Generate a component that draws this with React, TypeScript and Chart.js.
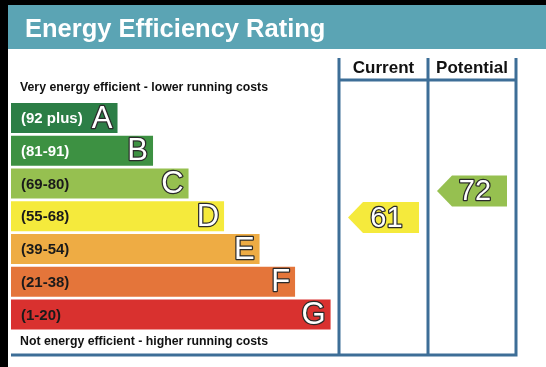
import React, { useEffect, useRef } from "react";
import { Chart, registerables } from "chart.js";

Chart.register(...registerables);

const categories = ["A", "B", "C", "D", "E", "F", "G"];
const bandLabels = ["(92 plus)", "(81-91)", "(69-80)", "(55-68)", "(39-54)", "(21-38)", "(1-20)"];
const bandMin = [92, 81, 69, 55, 39, 21, 1];
const bandMax = [100, 91, 80, 68, 54, 38, 20];
const barLengths = [3, 4, 5, 6, 7, 8, 9];
const barColors = ["#2c7e46", "#3d9142", "#96c050", "#f5ea3c", "#eeac44", "#e4753a", "#d9312f"];
const labelColors = ["#ffffff", "#ffffff", "#1a1a1a", "#1a1a1a", "#1a1a1a", "#1a1a1a", "#1a1a1a"];
const columnHeaders = ["Current", "Potential"];
const ratings = [61, 72]; // current, potential
const titleText = "Energy Efficiency Rating";
const topNote = "Very energy efficient - lower running costs";
const bottomNote = "Not energy efficient - higher running costs";

const FONT = "'Liberation Sans', Arial, sans-serif";
const FRAME = "#3d6e97";
const TEAL = "#5ba4b4";

function bandOf(v: number) {
  for (let i = 0; i < bandMin.length; i++) if (v >= bandMin[i]) return i;
  return bandMin.length - 1;
}

function outlined(ctx: CanvasRenderingContext2D, t: string, x: number, y: number, lw: number) {
  ctx.lineJoin = "round";
  ctx.lineWidth = lw;
  ctx.strokeStyle = "#2a2a2a";
  ctx.strokeText(t, x, y);
  ctx.fillStyle = "#ffffff";
  ctx.fillText(t, x, y);
}

const epcPlugin = {
  id: "epc",
  beforeDraw(chart: any) {
    const ctx = chart.ctx as CanvasRenderingContext2D;
    const W = chart.width, H = chart.height;
    ctx.save();
    ctx.fillStyle = "#000";
    ctx.fillRect(0, 0, W, H);
    ctx.fillStyle = "#fff";
    ctx.fillRect(8, 5, W - 8, H - 5);
    ctx.fillStyle = TEAL;
    ctx.fillRect(8, 5, W - 8, 44);
    ctx.fillStyle = "#fff";
    ctx.font = `bold 25.5px ${FONT}`;
    ctx.textBaseline = "alphabetic";
    ctx.textAlign = "left";
    ctx.fillText(titleText, 25, 37);

    ctx.fillStyle = "#111";
    ctx.font = `bold 12.3px ${FONT}`;
    ctx.textBaseline = "middle";
    ctx.fillText(topNote, 20, 88);
    ctx.fillText(bottomNote, 20, 342);

    ctx.font = `bold 17px ${FONT}`;
    ctx.textAlign = "center";
    ctx.fillText(columnHeaders[0], 383.5, 68);
    ctx.fillText(columnHeaders[1], 472, 68);
    ctx.restore();
  },
  afterDatasetsDraw(chart: any) {
    const ctx = chart.ctx as CanvasRenderingContext2D;
    const meta = chart.getDatasetMeta(0);
    const yScale = chart.scales.y;
    ctx.save();
    meta.data.forEach((bar: any, i: number) => {
      ctx.textBaseline = "middle";
      ctx.textAlign = "left";
      ctx.font = `bold 15px ${FONT}`;
      ctx.fillStyle = labelColors[i];
      ctx.fillText(bandLabels[i], 21, bar.y + 1);
      ctx.textAlign = "right";
      ctx.font = `31px ${FONT}`;
      outlined(ctx, categories[i], bar.x - 5, bar.y + 1, 2.5);
    });

    // frame
    const cols = [339, 428, 516];
    ctx.strokeStyle = FRAME;
    ctx.lineWidth = 3;
    ctx.beginPath();
    cols.forEach((x) => {
      ctx.moveTo(x, 58);
      ctx.lineTo(x, 356.5);
    });
    ctx.moveTo(cols[0], 80);
    ctx.lineTo(cols[2], 80);
    ctx.moveTo(11, 355);
    ctx.lineTo(cols[2] + 1.5, 355);
    ctx.stroke();

    // arrows
    const bandH = (yScale.bottom - yScale.top) / categories.length;
    ratings.forEach((v, k) => {
      const b = bandOf(v);
      const top = yScale.getPixelForValue(b) - bandH / 2;
      const f = (bandMax[b] - v) / (bandMax[b] - bandMin[b]);
      const cy = top + f * bandH;
      const L = cols[k], R = cols[k + 1];
      const tip = L + 9, bodyL = tip + 15, right = R - 9, h = 15.5;
      ctx.fillStyle = barColors[b];
      ctx.beginPath();
      ctx.moveTo(tip, cy);
      ctx.lineTo(bodyL, cy - h);
      ctx.lineTo(right, cy - h);
      ctx.lineTo(right, cy + h);
      ctx.lineTo(bodyL, cy + h);
      ctx.closePath();
      ctx.fill();
      ctx.font = `29px ${FONT}`;
      ctx.textAlign = "center";
      ctx.textBaseline = "middle";
      outlined(ctx, String(v), (tip + right) / 2 + 3, cy + 1, 2.5);
    });
    ctx.restore();
  },
};

export default function App() {
  const ref = useRef<HTMLCanvasElement>(null);
  useEffect(() => {
    document.body.style.margin = "0";
    const chart = new Chart(ref.current!, {
      type: "bar",
      data: {
        labels: categories,
        datasets: [
          {
            data: barLengths,
            backgroundColor: barColors,
            borderWidth: 0,
            categoryPercentage: 1,
            barPercentage: 0.916,
          },
        ],
      },
      options: {
        indexAxis: "y",
        responsive: false,
        animation: false,
        layout: { padding: { top: 101.6, bottom: 36.1, left: 11, right: 29 } },
        scales: {
          x: { type: "linear", min: 0, max: 14.25, display: false },
          y: { display: false },
        },
        plugins: { legend: { display: false }, tooltip: { enabled: false } },
      },
      plugins: [epcPlugin],
    });
    return () => chart.destroy();
  }, []);
  return <canvas ref={ref} width={546} height={367} style={{ display: "block" }} />;
}
